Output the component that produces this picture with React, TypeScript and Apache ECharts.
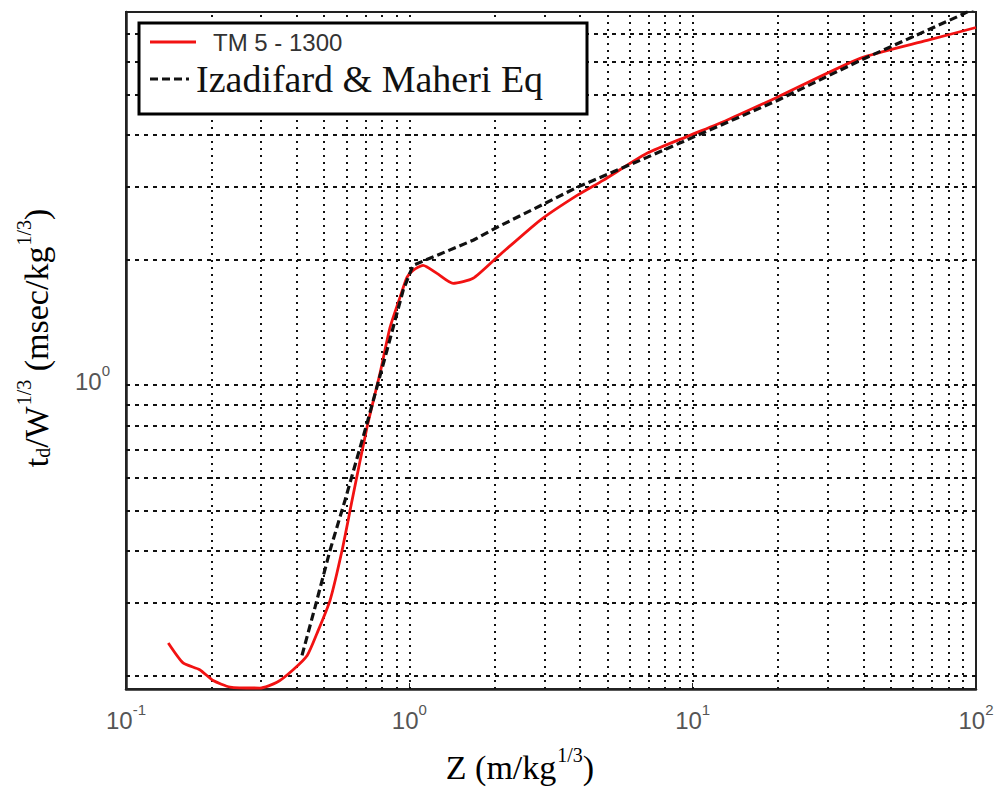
import React, { useEffect, useRef } from "react";
import * as echarts from "echarts";

// TM 5-1300 curve (Z in m/kg^1/3, td/W^1/3 in msec/kg^1/3)
const tmZ = [0.141, 0.159, 0.182, 0.203, 0.233, 0.297, 0.341, 0.389, 0.436, 0.472, 0.525, 0.579, 0.628, 0.709, 0.788, 0.855, 0.927, 0.981, 1.031, 1.118, 1.252, 1.427, 1.679, 2.04, 2.893, 3.908, 4.83, 6.9, 9.79, 13.2, 19.9, 39.0, 67.2, 100];
const tmTd = [0.240, 0.215, 0.207, 0.195, 0.188, 0.187, 0.193, 0.207, 0.224, 0.253, 0.304, 0.401, 0.529, 0.793, 1.069, 1.378, 1.627, 1.818, 1.890, 1.943, 1.858, 1.758, 1.808, 2.031, 2.493, 2.862, 3.110, 3.612, 3.99, 4.34, 4.93, 6.11, 6.75, 7.25];

// Izadifard & Maheri equation curve
const eqZ = [0.418, 0.465, 0.525, 0.593, 0.709, 0.834, 0.951, 1.031, 1.252, 1.679, 2.04, 3.908, 6.9, 19.9, 39.0, 87.9, 100];
const eqTd = [0.224, 0.293, 0.401, 0.529, 0.810, 1.214, 1.692, 1.943, 2.053, 2.232, 2.398, 2.992, 3.532, 4.84, 6.04, 7.75, 8.1];

// grid lines (log decades)
const xGridValues = [0.2, 0.3, 0.4, 0.5, 0.6, 0.7, 0.8, 0.9, 1, 2, 3, 4, 5, 6, 7, 8, 9, 10, 20, 30, 40, 50, 60, 70, 80, 90];
const yGridValues = [0.2, 0.3, 0.4, 0.5, 0.6, 0.7, 0.8, 0.9, 1, 2, 3, 4, 5, 6, 7];

const seriesNames = ["TM 5 - 1300", "Izadifard & Maheri Eq"];

const labelRich = {
  b: { fontSize: 24, fontFamily: "Liberation Sans", color: "#555", lineHeight: 30, verticalAlign: "bottom" },
  s: { fontSize: 15, fontFamily: "Liberation Sans", color: "#555", lineHeight: 16, verticalAlign: "top" },
};

function powLabel(v: number): string {
  const e = Math.log10(v);
  const r = Math.round(e);
  if (Math.abs(e - r) > 1e-6) return "";
  return `{b|10}{s|${r}}`;
}

const titleRich = {
  n: { fontSize: 34, fontFamily: "Liberation Serif", color: "#000", lineHeight: 40, verticalAlign: "bottom" },
  sup: { fontSize: 20, fontFamily: "Liberation Serif", color: "#000", lineHeight: 40, verticalAlign: "top", padding: [1, 0, 0, 1] },
  sub: { fontSize: 20, fontFamily: "Liberation Serif", color: "#000", lineHeight: 34, verticalAlign: "bottom" },
};

const solidIcon = "path://M0 0H46V3H0Z";
const dashIcon = "path://M0 0H8V3H0Z M12 0H20V3H12Z M24 0H32V3H24Z M36 0H39V3H36Z M46 0H46.01V0.01H46Z";

export default function App() {
  const ref = useRef<HTMLDivElement>(null);
  useEffect(() => {
    if (!ref.current) return;
    const chart = echarts.init(ref.current, undefined, { renderer: "svg" });
    const tmData = tmZ.map((z, i) => [z, tmTd[i]]);
    const eqData = eqZ.map((z, i) => [z, eqTd[i]]);
    chart.setOption({
      animation: false,
      backgroundColor: "#fff",
      grid: {
        left: 126,
        right: 22,
        top: 12,
        bottom: 98,
        show: true,
        borderColor: "#222",
        borderWidth: 2,
        backgroundColor: "#fff",
      },
      xAxis: {
        type: "log",
        logBase: 10,
        min: 0.1,
        max: 100,
        axisLine: { show: true, lineStyle: { color: "#222", width: 2.5 } },
        axisTick: { show: true, inside: true, length: 6, lineStyle: { color: "#222" } },
        splitLine: { show: false },
        axisLabel: {
          margin: 13,
          showMinLabel: true,
          showMaxLabel: true,
          formatter: powLabel,
          rich: labelRich,
        },
      },
      yAxis: {
        type: "log",
        logBase: 10,
        min: 0.186,
        max: 7.9,
        axisLine: { show: true, lineStyle: { color: "#222", width: 2.5 } },
        axisTick: { show: false },
        splitLine: { show: false },
        axisLabel: {
          margin: 16,
          padding: [0, 0, 14, 0],
          formatter: powLabel,
          rich: labelRich,
        },
      },
      legend: {
        orient: "vertical",
        left: 150,
        top: 30,
        z: 20,
        itemWidth: 46,
        itemHeight: 3,
        itemGap: 6,
        padding: 0,
        data: [
          { name: seriesNames[0], icon: solidIcon, textStyle: { fontFamily: "Liberation Sans", fontSize: 24, color: "#333", padding: [0, 0, 0, 12] } },
          { name: seriesNames[1], icon: dashIcon, textStyle: { fontFamily: "Liberation Serif", fontSize: 38, color: "#111", padding: [0, 0, 0, -5] } },
        ],
      },
      graphic: [
        {
          type: "rect",
          z: 10,
          shape: { x: 139, y: 23, width: 448, height: 91 },
          style: { fill: "#fff", stroke: "#000", lineWidth: 3 },
        },
        {
          type: "text",
          z: 10,
          x: 520,
          y: 764,
          style: {
            text: "{n|Z (m/kg}{sup|1/3}{n|)}",
            rich: titleRich,
            align: "center",
            verticalAlign: "middle",
          },
        },
        {
          type: "text",
          z: 10,
          x: 33,
          y: 338,
          rotation: Math.PI / 2,
          style: {
            text: "{n|t}{sub|d}{n|/W}{sup|1/3}{n| (msec/kg}{sup|1/3}{n|)}",
            rich: titleRich,
            align: "center",
            verticalAlign: "middle",
          },
        },
      ],
      series: [
        {
          name: "hgrid",
          type: "line",
          data: [],
          silent: true,
          markLine: {
            silent: true,
            symbol: "none",
            label: { show: false },
            lineStyle: { color: "#111", width: 1.8, type: [4, 5] },
            data: yGridValues.map((v) => ({ yAxis: v })),
          },
        },
        {
          name: "vgrid",
          type: "line",
          data: [],
          silent: true,
          markLine: {
            silent: true,
            symbol: "none",
            label: { show: false },
            lineStyle: { color: "#111", width: 2, type: [2, 5] },
            data: xGridValues.map((v) => ({ xAxis: v })),
          },
        },
        {
          name: seriesNames[0],
          type: "line",
          z: 7,
          data: tmData,
          symbol: "none",
          smooth: 0.2,
          lineStyle: { color: "#f21212", width: 2.8 },
          itemStyle: { color: "#f21212" },
        },
        {
          name: seriesNames[1],
          type: "line",
          z: 8,
          data: eqData,
          symbol: "none",
          lineStyle: { color: "#111", width: 3.2, type: [8, 4] },
          itemStyle: { color: "#111" },
        },
      ],
    });
    return () => chart.dispose();
  }, []);
  return <div ref={ref} style={{ position: "absolute", left: 0, top: 0, width: 998, height: 787 }} />;
}
